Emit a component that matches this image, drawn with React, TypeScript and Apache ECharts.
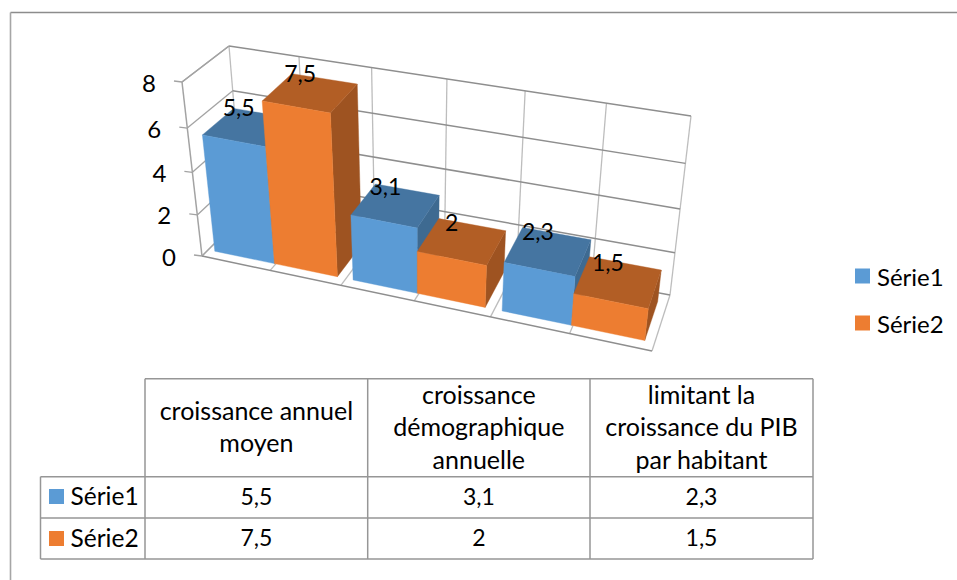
import React, { useEffect, useRef } from "react";
import * as echarts from "echarts";

const categories = ["croissance annuel\nmoyen", "croissance\ndémographique\nannuelle", "limitant la\ncroissance du PIB\npar habitant"];
const serieNames = ["Série1", "Série2"];
const serie1 = [5.5, 3.1, 2.3];
const serie2 = [7.5, 2, 1.5];
const valueTicks = [0, 2, 4, 6, 8];
const floorDivisions = [0, 0.5, 1, 1.5, 2, 2.5, 3];
const FRONT = ["#5B9BD5", "#ED7D31"];
const TOP = ["#4575A1", "#B25E25"];
const SIDE = ["#3E6A91", "#9E5321"];
const FONT = "Lato";
const fr = (v: number) => String(v).replace(".", ",");

type Pt = [number, number];
// corners of the 3D box on screen: F/B front/back, L/R left/right, B/T bottom/top
const C: Record<string, Pt> = {
  FLB: [202, 256], FLT: [182, 82], FRB: [652, 351], FRT: [673, 170],
  BLB: [243, 215], BLT: [229, 46], BRB: [670, 295], BRT: [691, 116],
};
const KU = 1.12, KV = 1.08;
const lerp = (a: Pt, b: Pt, t: number): Pt => [a[0] + (b[0] - a[0]) * t, a[1] + (b[1] - a[1]) * t];
function project(u: number, v: number, w: number): Pt {
  const uu = u / (u + KU * (1 - u));
  const vv = v / (v + KV * (1 - v));
  const fb = lerp(C.FLB, C.FRB, uu), ft = lerp(C.FLT, C.FRT, uu);
  const bb = lerp(C.BLB, C.BRB, uu), bt = lerp(C.BLT, C.BRT, uu);
  return lerp(lerp(fb, ft, vv), lerp(bb, bt, vv), w);
}
// unit coordinates come from the (hidden) ECharts scales
function unit(api: any, x: number, y: number): [number, number] {
  const o = api.coord([0, 0]), e = api.coord([3, 8]), p = api.coord([x, y]);
  return [(p[0] - o[0]) / (e[0] - o[0]), (p[1] - o[1]) / (e[1] - o[1])];
}
const poly = (points: Pt[], fill: string, z2: number) => ({
  type: "polygon", shape: { points }, style: { fill, stroke: fill, lineWidth: 0.4 }, z2, silent: true,
});
const seg = (a: Pt, b: Pt, stroke: string, lineWidth: number, z2 = 1) => ({
  type: "line", shape: { x1: a[0], y1: a[1], x2: b[0], y2: b[1] }, style: { stroke, lineWidth }, z2, silent: true,
});

const WF = 0.15, WB = 0.85;
function barSeries(s: number, values: number[]) {
  return {
    type: "custom", name: serieNames[s], coordinateSystem: "cartesian2d",
    itemStyle: { color: FRONT[s] }, silent: true,
    data: values.map((v, i) => [i, v]),
    renderItem: (_p: any, api: any) => {
      const cat = api.value(0), val = api.value(1);
      const x0 = cat + (s === 0 ? 0.05 : 0.49), x1 = cat + (s === 0 ? 0.49 : 0.94);
      const [u0, v0] = unit(api, x0, 0);
      const [u1, v1] = unit(api, x1, val);
      const z = 10 + (cat * 2 + s) * 3;
      const A = project(u0, v0, WF), B = project(u1, v0, WF), D = project(u1, v1, WF), E = project(u0, v1, WF);
      const F = project(u0, v1, WB), G = project(u1, v1, WB), H = project(u1, v0, WB);
      const mid = project((u0 + u1) / 2, v1, 0.5);
      return {
        type: "group",
        children: [
          poly([B, H, G, D], SIDE[s], z),
          poly([E, D, G, F], TOP[s], z + 1),
          poly([A, B, D, E], FRONT[s], z + 2),
          {
            type: "text", z2: 100, silent: true,
            style: { text: fr(val), x: mid[0] - 10, y: mid[1] - 20, align: "center", verticalAlign: "middle", fontFamily: FONT, fontSize: 23, fill: "#000" },
          },
        ],
      };
    },
  };
}

const wallsSeries = {
  type: "custom", coordinateSystem: "cartesian2d", silent: true, legendHoverLink: false,
  data: valueTicks.map((v) => [0, v]),
  renderItem: (_p: any, api: any) => {
    const val = api.value(1);
    const [, v] = unit(api, 0, val);
    const fl = project(0, v, 0), bl = project(0, v, 1), br = project(1, v, 1);
    return {
      type: "group",
      children: [
        seg(fl, bl, "#A3A3A3", 1.3),
        seg(bl, br, "#8E8E8E", 1.5),
        seg([fl[0] - 8, fl[1] - 1], fl, "#A3A3A3", 1.3),
        {
          type: "text", z2: 5, silent: true,
          style: { text: String(val), x: fl[0] - 26, y: fl[1], align: "right", verticalAlign: "middle", fontFamily: FONT, fontSize: 24, fill: "#000" },
        },
      ],
    };
  },
};
const divisionsSeries = {
  type: "custom", coordinateSystem: "cartesian2d", silent: true,
  data: floorDivisions.map((d) => [d, 0]),
  renderItem: (_p: any, api: any) => {
    const [u, v] = unit(api, api.value(0), 0);
    const [, t] = unit(api, 0, 8);
    return {
      type: "group",
      children: [
        seg(project(u, v, 0), project(u, v, 1), "#BDBDBD", 1.3),
        seg(project(u, v, 1), project(u, t, 1), "#BDBDBD", 1.3),
      ],
    };
  },
};
const edgesSeries = {
  type: "custom", coordinateSystem: "cartesian2d", silent: true,
  data: [[0, 0]],
  renderItem: (_p: any, api: any) => {
    const [, t] = unit(api, 0, 8);
    return {
      type: "group",
      children: [
        seg(project(0, 0, 0), project(1, 0, 0), "#8E8E8E", 1.5, 2),
        seg(project(0, 0, 0), project(0, t, 0), "#A3A3A3", 1.5, 2),
        seg(project(0, t, 0), project(0, t, 1), "#A3A3A3", 1.5, 2),
      ],
    };
  },
};

const LINE = "#969696";
const tableX = [145, 367.7, 590, 813];
const tableY = [378.7, 476.7, 518, 559];
const FRAME = "#8C8C8C";
const text = (t: string, x: number, y: number, align = "center", fontSize = 25) => ({
  type: "text", silent: true,
  style: { text: t, x, y: y - 1.5, align, verticalAlign: "middle", fontFamily: FONT, fontSize, lineHeight: 32.5, fill: "#000" },
});
const gLine = (x1: number, y1: number, x2: number, y2: number, stroke = LINE, lineWidth = 1.5) => ({
  type: "line", silent: true, shape: { x1, y1, x2, y2 }, style: { stroke, lineWidth },
});
const tableGraphics = [
  gLine(10.5, 12.5, 957, 12.5, FRAME, 1.6),
  gLine(10.5, 12.5, 10.5, 580, "#A6A6A6", 1.6),
  gLine(tableX[0], tableY[0], tableX[3], tableY[0]),
  gLine(40.5, tableY[1], tableX[3], tableY[1]),
  gLine(40.5, tableY[2], tableX[3], tableY[2]),
  gLine(40.5, tableY[3], tableX[3], tableY[3]),
  gLine(40.5, tableY[1], 40.5, tableY[3]),
  ...tableX.map((x) => gLine(x, tableY[0], x, tableY[3])),
  ...categories.map((c, i) => text(c, (tableX[i] + tableX[i + 1]) / 2, (tableY[0] + tableY[1]) / 2)),
  ...[serie1, serie2].flatMap((vals, s) => [
    { type: "rect", silent: true, shape: { x: 49, y: s === 0 ? 489 : 531, width: 15, height: 15 }, style: { fill: FRONT[s] } },
    text(serieNames[s], 70.5, (tableY[s + 1] + tableY[s + 2]) / 2, "left", 24.5),
    ...vals.map((v, i) => text(fr(v), (tableX[i] + tableX[i + 1]) / 2, (tableY[s + 1] + tableY[s + 2]) / 2, "center", 23)),
  ]),
];

export default function App() {
  const ref = useRef<HTMLDivElement>(null);
  useEffect(() => {
    const chart = echarts.init(ref.current!, undefined, { renderer: "svg" });
    chart.setOption({
      animation: false,
      backgroundColor: "#fff",
      color: FRONT,
      grid: { left: 100, right: 100, top: 100, bottom: 100 },
      xAxis: { type: "value", min: 0, max: 3, show: false },
      yAxis: { type: "value", min: 0, max: 8, interval: 2, show: false },
      legend: {
        orient: "vertical", left: 855, top: 264, padding: 0, itemWidth: 15, itemHeight: 15, itemGap: 23,
        icon: "rect", selectedMode: false, data: serieNames,
        textStyle: { fontFamily: FONT, fontSize: 24, color: "#000", padding: [0, 0, 0, 2] },
      },
      tooltip: { show: false },
      graphic: tableGraphics,
      series: [divisionsSeries, wallsSeries, edgesSeries, barSeries(0, serie1), barSeries(1, serie2)],
    });
    return () => chart.dispose();
  }, []);
  return <div ref={ref} style={{ position: "absolute", left: 0, top: 0, width: 957, height: 580 }} />;
}
